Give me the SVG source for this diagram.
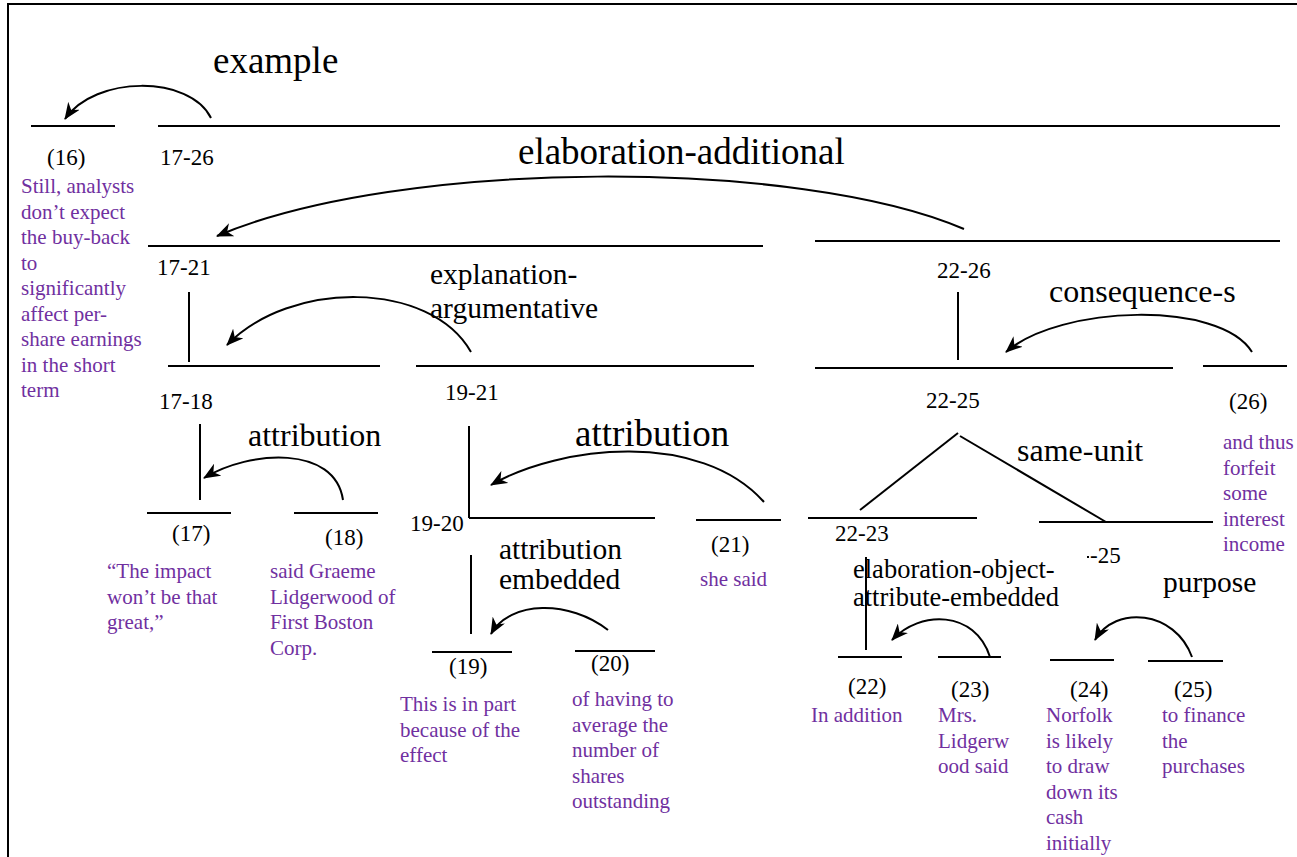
<svg xmlns="http://www.w3.org/2000/svg" width="1297" height="857" viewBox="0 0 1297 857">
<defs>
<marker id="ah" markerUnits="userSpaceOnUse" markerWidth="18" markerHeight="14" viewBox="0 0 18 14" refX="16" refY="7" orient="auto">
<path d="M0,0 L17,7 L0,14 L5,7 Z" fill="#000"/>
</marker>
<style>
.seg{stroke:#000;stroke-width:2;fill:none}
.arc{stroke:#000;stroke-width:2;fill:none;marker-end:url(#ah)}
text{font-family:"Liberation Serif","Times New Roman",serif;fill:#000}
.n{font-size:23px}
.p{font-size:21px;fill:#7030A0}
.big{font-size:37px}
.mid{font-size:32px}
.m29{font-size:29.5px}
.sm{font-size:26.5px}
</style>
</defs>
<rect width="1297" height="857" fill="#fff"/>
<path d="M8,857 V4 H1297" class="seg"/>

<g id="connectors">
<path class="arc" d="M211,118 C190,75 95,75 65,119"/>
<path class="arc" d="M964,229 C800,158 400,158 217,236"/>
<path class="arc" d="M471,352 C430,280 290,280 227,345"/>
<path class="arc" d="M343,500 C335,445 250,450 204,478"/>
<path class="arc" d="M764,502 C700,430 560,445 491,485"/>
<path class="arc" d="M1252,352 C1220,300 1060,305 1006,352"/>
<path class="arc" d="M608,630 C570,600 510,600 491,634"/>
<path class="arc" d="M990,657 C975,610 920,610 892,640"/>
<path class="arc" d="M1192,657 C1175,610 1115,605 1095,640"/>
<path class="seg" d="M189,292 V362"/>
<path class="seg" d="M958,292 V360"/>
<path class="seg" d="M200,424 V500"/>
<path class="seg" d="M469,426 V518"/>
<path class="seg" d="M471,555 V634"/>
<path class="seg" d="M866,557 V650"/>
<path class="seg" d="M958,433 L860,510"/>
<path class="seg" d="M960,436 L1106,522"/>
</g>

<g id="rel-example"><text class="big" x="213" y="73">example</text></g>
<g id="rel-elab-add"><text class="big" x="518" y="164">elaboration-additional</text></g>
<g id="rel-expl"><text class="m29" x="430" y="284">explanation-</text><text class="m29" x="430" y="318">argumentative</text></g>
<g id="rel-cons"><text class="mid" x="1049" y="302">consequence-s</text></g>
<g id="rel-attr1"><text class="mid" x="248" y="446">attribution</text></g>
<g id="rel-attr2"><text class="big" x="575" y="446">attribution</text></g>
<g id="rel-same"><text class="mid" x="1017" y="461">same-unit</text></g>
<g id="rel-attremb"><text class="m29" x="499" y="559">attribution</text><text class="m29" x="499" y="589">embedded</text></g>
<g id="rel-elabobj"><text class="sm" x="853" y="578">elaboration-object-</text><text class="sm" x="853" y="606">attribute-embedded</text></g>
<g id="rel-purpose"><text class="m29" x="1163" y="592">purpose</text></g>

<g id="n16"><path class="seg" d="M31,126 H115"/><text class="n" x="47" y="165">(16)</text>
<text class="p" x="21" y="193">Still, analysts</text><text class="p" x="21" y="218.5">don’t expect</text><text class="p" x="21" y="244">the buy-back</text><text class="p" x="21" y="269.5">to</text><text class="p" x="21" y="295">significantly</text><text class="p" x="21" y="320.5">affect per-</text><text class="p" x="21" y="346">share earnings</text><text class="p" x="21" y="371.5">in the short</text><text class="p" x="21" y="397">term</text></g>
<g id="n17-26"><path class="seg" d="M158,126 H1280"/><text class="n" x="160" y="165">17-26</text></g>
<g id="n17-21"><path class="seg" d="M148,246 H763"/><text class="n" x="157" y="275">17-21</text></g>
<g id="n22-26"><path class="seg" d="M815,241 H1280"/><text class="n" x="937" y="278">22-26</text></g>
<g id="n17-18"><path class="seg" d="M168,366 H380"/><text class="n" x="159" y="409">17-18</text></g>
<g id="n19-21"><path class="seg" d="M416,366 H754"/><text class="n" x="445" y="400">19-21</text></g>
<g id="n22-25"><path class="seg" d="M815,368 H1173"/><text class="n" x="926" y="408">22-25</text></g>
<g id="n26"><path class="seg" d="M1203,366 H1287"/><text class="n" x="1229" y="409">(26)</text>
<text class="p" x="1223" y="449">and thus</text><text class="p" x="1223" y="474.5">forfeit</text><text class="p" x="1223" y="500">some</text><text class="p" x="1223" y="525.5">interest</text><text class="p" x="1223" y="551">income</text></g>
<g id="n17"><path class="seg" d="M147,513 H231"/><text class="n" x="172" y="541">(17)</text>
<text class="p" x="107" y="578">“The impact</text><text class="p" x="107" y="603.5">won’t be that</text><text class="p" x="107" y="629">great,”</text></g>
<g id="n18"><path class="seg" d="M294,513 H378"/><text class="n" x="325" y="545">(18)</text>
<text class="p" x="270" y="578">said Graeme</text><text class="p" x="270" y="603.5">Lidgerwood of</text><text class="p" x="270" y="629">First Boston</text><text class="p" x="270" y="654.5">Corp.</text></g>
<g id="n19-20"><path class="seg" d="M469,518 H655"/><text class="n" x="410" y="531">19-20</text></g>
<g id="n21"><path class="seg" d="M696,520 H781"/><text class="n" x="711" y="552">(21)</text><text class="p" x="700" y="586">she said</text></g>
<g id="n22-23"><path class="seg" d="M808,518 H977"/><text class="n" x="835" y="541">22-23</text></g>
<g id="n24-25"><path class="seg" d="M1039,522 H1213"/><rect x="1087" y="556" width="2" height="2" fill="#000"/><text class="n" x="1090" y="563">-25</text></g>
<g id="n19"><path class="seg" d="M432,652 H512"/><text class="n" x="449" y="674">(19)</text>
<text class="p" x="400" y="711">This is in part</text><text class="p" x="400" y="736.5">because of the</text><text class="p" x="400" y="762">effect</text></g>
<g id="n20"><path class="seg" d="M575,651 H655"/><text class="n" x="591" y="671">(20)</text>
<text class="p" x="572" y="706">of having to</text><text class="p" x="572" y="731.5">average the</text><text class="p" x="572" y="757">number of</text><text class="p" x="572" y="782.5">shares</text><text class="p" x="572" y="808">outstanding</text></g>
<g id="n22"><path class="seg" d="M838,657 H902"/><text class="n" x="848" y="694">(22)</text><text class="p" x="811" y="722">In addition</text></g>
<g id="n23"><path class="seg" d="M938,657 H1001"/><text class="n" x="951" y="697">(23)</text>
<text class="p" x="938" y="722">Mrs.</text><text class="p" x="938" y="747.5">Lidgerw</text><text class="p" x="938" y="773">ood said</text></g>
<g id="n24"><path class="seg" d="M1050,660 H1114"/><text class="n" x="1070" y="697">(24)</text>
<text class="p" x="1046" y="722">Norfolk</text><text class="p" x="1046" y="747.5">is likely</text><text class="p" x="1046" y="773">to draw</text><text class="p" x="1046" y="798.5">down its</text><text class="p" x="1046" y="824">cash</text><text class="p" x="1046" y="849.5">initially</text></g>
<g id="n25"><path class="seg" d="M1148,661 H1223"/><text class="n" x="1174" y="697">(25)</text>
<text class="p" x="1162" y="722">to finance</text><text class="p" x="1162" y="747.5">the</text><text class="p" x="1162" y="773">purchases</text></g>
</svg>
